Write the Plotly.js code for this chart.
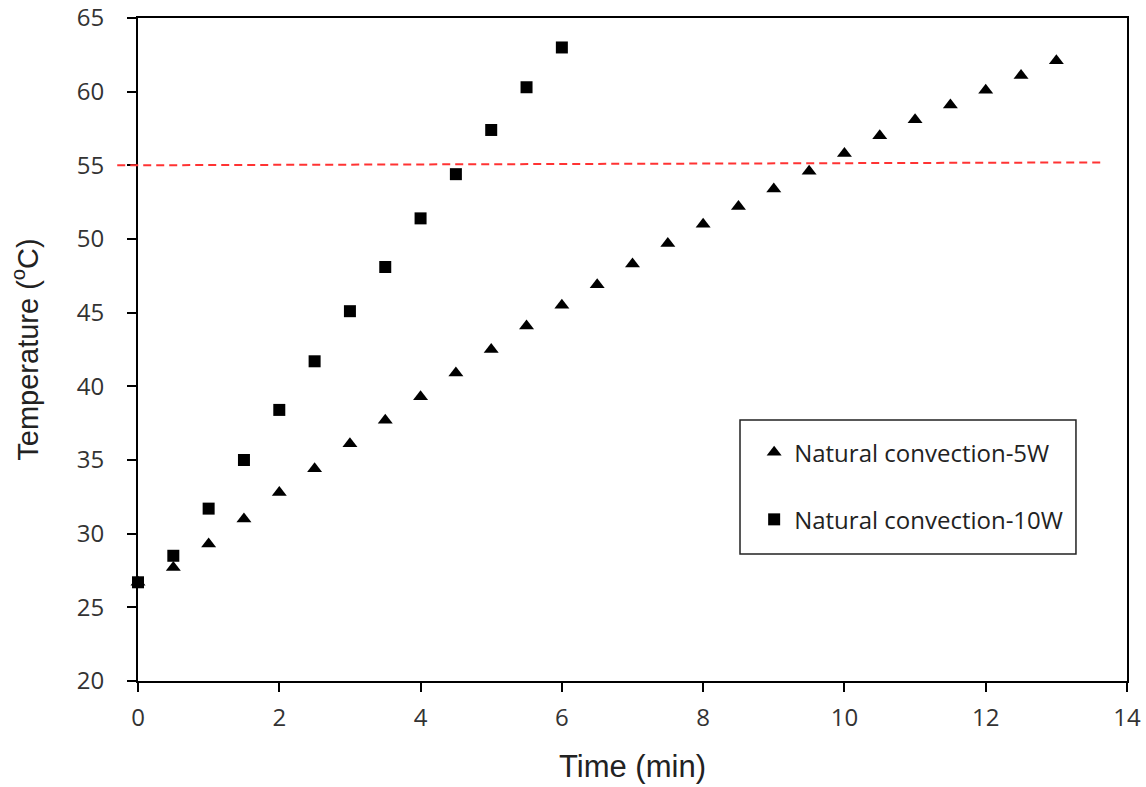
<!DOCTYPE html>
<html>
<head>
<meta charset="utf-8">
<script src="https://cdn.plot.ly/plotly-3.0.1.min.js"></script>
<style>html,body{margin:0;padding:0;background:#fff;}#chart{width:1146px;height:787px;}</style>
</head>
<body>
<div id="chart"></div>
<script>
const time5W = [0, 0.5, 1, 1.5, 2, 2.5, 3, 3.5, 4, 4.5, 5, 5.5, 6, 6.5, 7, 7.5, 8, 8.5, 9, 9.5, 10, 10.5, 11, 11.5, 12, 12.5, 13];
const temp5W = [26.7, 27.7, 29.3, 31.0, 32.8, 34.4, 36.1, 37.7, 39.3, 40.9, 42.5, 44.1, 45.5, 46.9, 48.3, 49.7, 51.0, 52.2, 53.4, 54.6, 55.8, 57.0, 58.1, 59.1, 60.1, 61.1, 62.1];
const time10W = [0, 0.5, 1, 1.5, 2, 2.5, 3, 3.5, 4, 4.5, 5, 5.5, 6];
const temp10W = [26.7, 28.5, 31.7, 35.0, 38.4, 41.7, 45.1, 48.1, 51.4, 54.4, 57.4, 60.3, 63.0];
const limitTemp = [55, 55.2];
const limitTimePaper = [-0.021, 0.975];
const seriesNames = ["Natural convection-5W", "Natural convection-10W"];

const traces = [
  {x: time5W, y: temp5W, mode: 'markers', type: 'scatter', name: seriesNames[0], legendgroup: 'a', cliponaxis: false,
   marker: {symbol: 'triangle-up', size: 13, color: '#000'}},
  {x: time10W, y: temp10W, mode: 'markers', type: 'scatter', name: seriesNames[1], legendgroup: 'b', cliponaxis: false,
   marker: {symbol: 'square', size: 12, color: '#000'}}
];

const axisCommon = {
  showgrid: false, zeroline: false, showline: true, linecolor: '#000', linewidth: 2,
  mirror: true, ticks: 'outside', tickcolor: '#000', tickwidth: 2, ticklen: 9,
  tickfont: {family: 'Open Sans', size: 24, color: '#333'}
};

const layout = {
  width: 1146, height: 787,
  margin: {l: 138, r: 19, t: 18, b: 106},
  paper_bgcolor: '#fff', plot_bgcolor: '#fff',
  xaxis: Object.assign({}, axisCommon, {
    range: [0, 14], dtick: 2, tick0: 0,
    ticklabelstandoff: 5,
    title: {text: 'Time (min)', font: {family: 'Liberation Sans, Arial', size: 31, color: '#222'}, standoff: 24}
  }),
  yaxis: Object.assign({}, axisCommon, {
    range: [20, 65], dtick: 5, tick0: 20,
    ticklabelstandoff: 18,
    title: {text: 'Temperature (<sup>o</sup>C)\u00a0\u00a0\u00a0', font: {family: 'Liberation Sans, Arial', size: 29, color: '#222'}, standoff: 30}
  }),
  legend: {
    x: 0.623, y: 0.3785, xanchor: 'left', yanchor: 'top',
    bgcolor: 'rgba(0,0,0,0)', borderwidth: 0,
    font: {family: 'Open Sans', size: 24, color: '#222'},
    traceorder: 'grouped', tracegroupgap: 33
  },
  shapes: [
    {type: 'line', xref: 'paper', yref: 'y',
     x0: limitTimePaper[0], x1: limitTimePaper[1], y0: limitTemp[0], y1: limitTemp[1],
     line: {color: '#ff3333', width: 2, dash: '8px,5px'}},
    {type: 'rect', xref: 'paper', yref: 'paper', x0: 0.6087, x1: 0.9484, y0: 0.1916, y1: 0.3937,
     line: {color: '#222', width: 1.5}, fillcolor: 'rgba(0,0,0,0)', layer: 'below'}
  ],
  showlegend: true
};

Plotly.newPlot('chart', traces, layout, {displayModeBar: false, staticPlot: true});
</script>
</body>
</html>
